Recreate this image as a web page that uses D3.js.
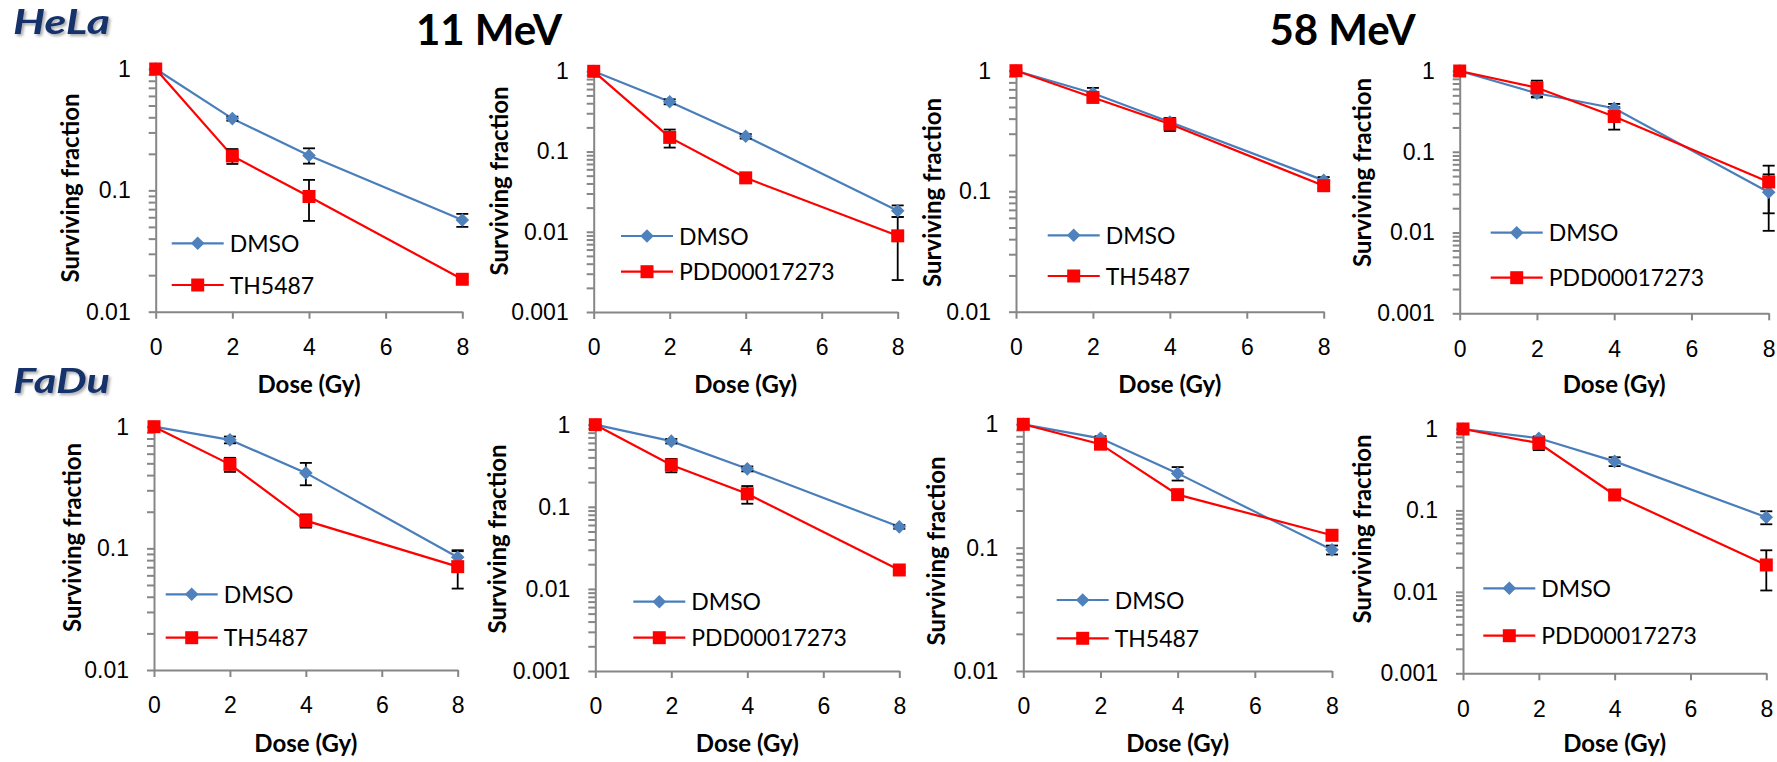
<!DOCTYPE html>
<html>
<head>
<meta charset="utf-8">
<script src="https://cdn.jsdelivr.net/npm/d3@7"></script>
<style>
  body { margin: 0; background: #fff; }
  svg { display: block; font-family: Lato, 'Liberation Sans', sans-serif; }
</style>
</head>
<body>
<div id="vis"></div>
<script>
// doses and tick labels
const doses = [0, 2, 4, 8];
const xTickValues = [0, 2, 4, 6, 8];
const yTickLabels2 = ['1', '0.1', '0.01'];
const yTickLabels3 = ['1', '0.1', '0.01', '0.001'];
const controlName = 'DMSO';
const drugNames = ['TH5487', 'PDD00017273'];
const cellLines = ['HeLa', 'FaDu'];
const energies = ['11 MeV', '58 MeV'];

// HeLa, 11 MeV, TH5487
const helaTh11Dmso = [1, 0.39, 0.194, 0.057];
const helaTh11DmsoSd = [0, 0.015, 0.028, 0.007];
const helaTh11Drug = [1, 0.192, 0.089, 0.0185];
const helaTh11DrugSd = [0, 0.027, 0.033, 0.001];

// HeLa, 11 MeV, PDD00017273
const helaPdd11Dmso = [1, 0.418, 0.155, 0.0183];
const helaPdd11DmsoSd = [0, 0.03, 0.01, 0.003];
const helaPdd11Drug = [1, 0.15, 0.047, 0.0089];
const helaPdd11DrugSd = [0, 0.038, 0.003, 0.0064];

// HeLa, 58 MeV, TH5487
const helaTh58Dmso = [1, 0.65, 0.375, 0.123];
const helaTh58DmsoSd = [0, 0.07, 0.03, 0.008];
const helaTh58Drug = [1, 0.6, 0.361, 0.111];
const helaTh58DrugSd = [0, 0.04, 0.045, 0.005];

// HeLa, 58 MeV, PDD00017273
const helaPdd58Dmso = [1, 0.53, 0.346, 0.0315];
const helaPdd58DmsoSd = [0, 0.06, 0.045, 0.021];
const helaPdd58Drug = [1, 0.62, 0.273, 0.0423];
const helaPdd58DrugSd = [0, 0.14, 0.085, 0.025];

// FaDu, 11 MeV, TH5487
const faduTh11Dmso = [1, 0.78, 0.417, 0.0845];
const faduTh11DmsoSd = [0, 0.05, 0.087, 0.012];
const faduTh11Drug = [1, 0.49, 0.169, 0.0707];
const faduTh11DrugSd = [0, 0.065, 0.021, 0.024];

// FaDu, 11 MeV, PDD00017273
const faduPdd11Dmso = [1, 0.63, 0.29, 0.057];
const faduPdd11DmsoSd = [0, 0.04, 0.02, 0.003];
const faduPdd11Drug = [1, 0.323, 0.144, 0.017];
const faduPdd11DrugSd = [0, 0.06, 0.035, 0.001];

// FaDu, 58 MeV, TH5487
const faduTh58Dmso = [1, 0.77, 0.4, 0.096];
const faduTh58DmsoSd = [0, 0.03, 0.05, 0.008];
const faduTh58Drug = [1, 0.69, 0.269, 0.126];
const faduTh58DrugSd = [0, 0.02, 0.01, 0.005];

// FaDu, 58 MeV, PDD00017273
const faduPdd58Dmso = [1, 0.77, 0.4, 0.0826];
const faduPdd58DmsoSd = [0, 0.04, 0.05, 0.015];
const faduPdd58Drug = [1, 0.67, 0.155, 0.0214];
const faduPdd58DrugSd = [0, 0.12, 0.01, 0.011];

let width = 1777,
  height = 762;

let blue = '#4a7ebb',
  blueFill = '#4f81bd',
  red = '#ff0000',
  axisGrey = '#868686';

// placement of each small chart
let panels = [
  {dmso: helaTh11Dmso, dmsoSd: helaTh11DmsoSd, drug: helaTh11Drug, drugSd: helaTh11DrugSd, drugName: drugNames[0], labels: yTickLabels2,
    x0: 155.7, x1: 462.3, top: 69, bottom: 311.7, legX: 171.7, legY: [243.3, 285], titleX: 79, titleY: 188, doseY: 393},
  {dmso: helaPdd11Dmso, dmsoSd: helaPdd11DmsoSd, drug: helaPdd11Drug, drugSd: helaPdd11DrugSd, drugName: drugNames[1], labels: yTickLabels3,
    x0: 593.7, x1: 897.7, top: 71.3, bottom: 312, legX: 621, legY: [236, 271.7], titleX: 508, titleY: 181, doseY: 393},
  {dmso: helaTh58Dmso, dmsoSd: helaTh58DmsoSd, drug: helaTh58Drug, drugSd: helaTh58DrugSd, drugName: drugNames[0], labels: yTickLabels2,
    x0: 1016, x1: 1323.7, top: 70.7, bottom: 311.7, legX: 1047.7, legY: [235.3, 276], titleX: 941, titleY: 192.5, doseY: 393},
  {dmso: helaPdd58Dmso, dmsoSd: helaPdd58DmsoSd, drug: helaPdd58Drug, drugSd: helaPdd58DrugSd, drugName: drugNames[1], labels: yTickLabels3,
    x0: 1459.7, x1: 1768.7, top: 71, bottom: 313.3, legX: 1490.7, legY: [232.7, 277.7], titleX: 1371, titleY: 172.5, doseY: 393},
  {dmso: faduTh11Dmso, dmsoSd: faduTh11DmsoSd, drug: faduTh11Drug, drugSd: faduTh11DrugSd, drugName: drugNames[0], labels: yTickLabels2,
    x0: 154, x1: 457.7, top: 426.7, bottom: 670, legX: 165.7, legY: [594.3, 637.7], titleX: 81, titleY: 537.5, doseY: 752},
  {dmso: faduPdd11Dmso, dmsoSd: faduPdd11DmsoSd, drug: faduPdd11Drug, drugSd: faduPdd11DrugSd, drugName: drugNames[1], labels: yTickLabels3,
    x0: 595.3, x1: 899.3, top: 424.7, bottom: 671, legX: 633.3, legY: [601.7, 637.7], titleX: 506, titleY: 539, doseY: 752},
  {dmso: faduTh58Dmso, dmsoSd: faduTh58DmsoSd, drug: faduTh58Drug, drugSd: faduTh58DrugSd, drugName: drugNames[0], labels: yTickLabels2,
    x0: 1023.3, x1: 1332, top: 424.3, bottom: 671, legX: 1056.7, legY: [600, 638.3], titleX: 945, titleY: 551, doseY: 752},
  {dmso: faduPdd58Dmso, dmsoSd: faduPdd58DmsoSd, drug: faduPdd58Drug, drugSd: faduPdd58DrugSd, drugName: drugNames[1], labels: yTickLabels3,
    x0: 1463, x1: 1766.3, top: 429, bottom: 673.3, legX: 1483.3, legY: [588.3, 635.7], titleX: 1371, titleY: 529, doseY: 752}
];

let svg = d3.select('#vis')
  .append('svg')
  .attr('width', width)
  .attr('height', height)
  .attr('viewBox', [0, 0, width, height].join(' '));

// soft shadow for the cell line names
let filter = svg.append('defs').append('filter')
  .attr('id', 'shadow')
  .attr('x', '-10%').attr('y', '-20%')
  .attr('width', '130%').attr('height', '160%');
filter.append('feDropShadow')
  .attr('dx', 2).attr('dy', 2)
  .attr('stdDeviation', 1.5)
  .attr('flood-color', '#000')
  .attr('flood-opacity', 0.35);

// diamond and square marker paths
function diamond(r) {
  return `M0,${-r}L${r},0L0,${r}L${-r},0Z`;
}
function square(r) {
  return `M${-r},${-r}H${r}V${r}H${-r}Z`;
}

function drawPanel(p) {
  let minValue = +p.labels[p.labels.length - 1];
  let g = svg.append('g');

  let x = d3.scaleLinear().domain([0, 8]).range([p.x0, p.x1]);
  let y = d3.scaleLog().domain([minValue, 1]).range([p.bottom, p.top]);

  // every 1..9 step of each decade gets a tick, only powers of ten a label
  let yTicks = [];
  for (let e = Math.round(Math.log10(minValue)); e < 0; e++) {
    for (let k = 1; k < 10; k++) yTicks.push(k * Math.pow(10, e));
  }
  yTicks.push(1);

  let yAxis = g.append('g')
    .attr('transform', `translate(${p.x0},0)`)
    .call(d3.axisLeft(y)
      .tickValues(yTicks)
      .tickSize(7)
      .tickSizeOuter(0)
      .tickPadding(18)
      .tickFormat(function(d) {
        let i = p.labels.findIndex(function(l) { return Math.abs(+l - d) < d * 1e-6; });
        return i >= 0 ? p.labels[i] : '';
      }));

  let xAxis = g.append('g')
    .attr('transform', `translate(0,${p.bottom})`)
    .call(d3.axisBottom(x)
      .tickValues(xTickValues)
      .tickSize(7)
      .tickSizeOuter(0)
      .tickPadding(20)
      .tickFormat(d3.format('d')));

  [yAxis, xAxis].forEach(function(a) {
    a.select('.domain').attr('stroke', axisGrey).attr('stroke-width', 2);
    a.selectAll('.tick line').attr('stroke', axisGrey).attr('stroke-width', 2);
    a.selectAll('.tick text')
      .attr('fill', '#000')
      .style('font-size', '23px');
  });

  // axis titles
  g.append('text')
    .attr('transform', `translate(${p.titleX},${p.titleY}) rotate(-90)`)
    .attr('text-anchor', 'middle')
    .style('font-size', '24px')
    .style('font-weight', 'bold')
    .text('Surviving fraction');

  g.append('text')
    .attr('x', (p.x0 + p.x1) / 2)
    .attr('y', p.doseY)
    .attr('text-anchor', 'middle')
    .style('font-size', '24px')
    .style('font-weight', 'bold')
    .text('Dose (Gy)');

  let series = [
    {values: p.dmso, sd: p.dmsoSd, color: blue, fill: blueFill, shape: diamond(6.8), name: controlName},
    {values: p.drug, sd: p.drugSd, color: red, fill: red, shape: square(6.5), name: p.drugName}
  ];

  let line = d3.line()
    .x(function(d) { return x(d.dose); })
    .y(function(d) { return y(d.value); });

  let rows = series.map(function(s) {
    return doses.map(function(d, i) {
      return {dose: d, value: s.values[i], sd: s.sd[i]};
    });
  });

  // lines
  series.forEach(function(s, k) {
    g.append('path')
      .datum(rows[k])
      .attr('fill', 'none')
      .attr('stroke', s.color)
      .attr('stroke-width', 2.2)
      .attr('d', line);
  });

  // error bars
  series.forEach(function(s, k) {
    let bars = g.selectAll(null)
      .data(rows[k].filter(function(d) { return d.sd > 0; }))
      .enter()
      .append('g')
      .attr('stroke', '#000')
      .attr('stroke-width', 1.8);
    bars.append('line')
      .attr('x1', function(d) { return x(d.dose); })
      .attr('x2', function(d) { return x(d.dose); })
      .attr('y1', function(d) { return y(d.value + d.sd); })
      .attr('y2', function(d) { return y(Math.max(d.value - d.sd, minValue)); });
    bars.append('line')
      .attr('x1', function(d) { return x(d.dose) - 6; })
      .attr('x2', function(d) { return x(d.dose) + 6; })
      .attr('y1', function(d) { return y(d.value + d.sd); })
      .attr('y2', function(d) { return y(d.value + d.sd); });
    bars.append('line')
      .attr('x1', function(d) { return x(d.dose) - 6; })
      .attr('x2', function(d) { return x(d.dose) + 6; })
      .attr('y1', function(d) { return y(Math.max(d.value - d.sd, minValue)); })
      .attr('y2', function(d) { return y(Math.max(d.value - d.sd, minValue)); });
  });

  // markers
  series.forEach(function(s, k) {
    g.selectAll(null)
      .data(rows[k])
      .enter()
      .append('path')
      .attr('transform', function(d) { return `translate(${x(d.dose)},${y(d.value)})`; })
      .attr('d', s.shape)
      .attr('fill', s.fill);
  });

  // legend
  series.forEach(function(s, k) {
    let ly = p.legY[k];
    g.append('line')
      .attr('x1', p.legX)
      .attr('x2', p.legX + 52)
      .attr('y1', ly)
      .attr('y2', ly)
      .attr('stroke', s.color)
      .attr('stroke-width', 2.2);
    g.append('path')
      .attr('transform', `translate(${p.legX + 26},${ly})`)
      .attr('d', s.shape)
      .attr('fill', s.fill);
    g.append('text')
      .attr('x', p.legX + 58)
      .attr('y', ly + 8.5)
      .style('font-size', '23px')
      .text(s.name);
  });
}

panels.forEach(drawPanel);

// row labels
svg.selectAll('.cell-line')
  .data(cellLines)
  .enter()
  .append('text')
  .attr('class', 'cell-line')
  .attr('x', 13)
  .attr('y', function(d, i) { return i == 0 ? 34 : 393; })
  .attr('textLength', 97)
  .attr('lengthAdjust', 'spacingAndGlyphs')
  .attr('fill', '#15306b')
  .attr('filter', 'url(#shadow)')
  .style('font-size', '34px')
  .style('font-weight', 'bold')
  .style('font-style', 'italic')
  .text(function(d) { return d; });

// energy headings
svg.selectAll('.energy')
  .data(energies)
  .enter()
  .append('text')
  .attr('class', 'energy')
  .attr('x', function(d, i) { return i == 0 ? 489 : 1342.5; })
  .attr('y', 45)
  .attr('text-anchor', 'middle')
  .style('font-size', '42px')
  .style('font-weight', 'bold')
  .text(function(d) { return d; });
</script>
</body>
</html>
